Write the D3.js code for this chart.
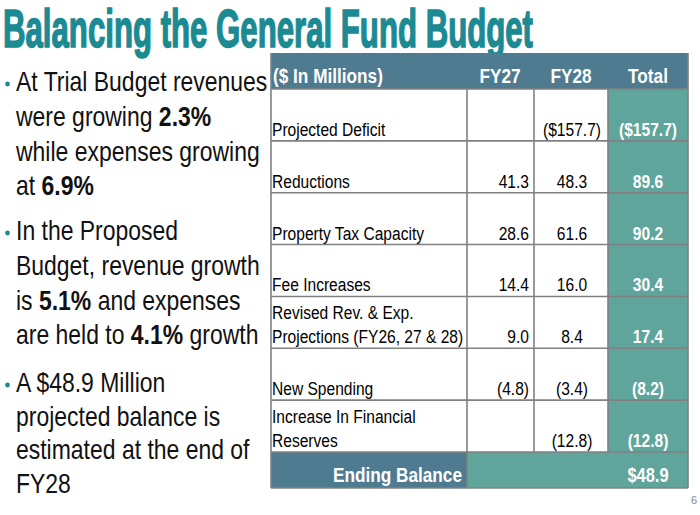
<!DOCTYPE html>
<html>
<head>
<meta charset="utf-8">
<script src="https://cdn.jsdelivr.net/npm/d3@7"></script>
<style>
  body { margin: 0; background: #fff; }
  svg { display: block; }
</style>
</head>
<body>
<svg id="slide" width="700" height="515"></svg>
<script>
// table data
const headers = ["($ In Millions)", "FY27", "FY28", "Total"];
const rowLabels = [
    ["Projected Deficit"],
    ["Reductions"],
    ["Property Tax Capacity"],
    ["Fee Increases"],
    ["Revised Rev. & Exp.", "Projections (FY26, 27 & 28)"],
    ["New Spending"],
    ["Increase In Financial", "Reserves"]
];
const fy27 = [null, 41.3, 28.6, 14.4, 9.0, -4.8, null];
const fy28 = [-157.7, 48.3, 61.6, 16.0, 8.4, -3.4, -12.8];
const totals = [-157.7, 89.6, 90.2, 30.4, 17.4, -8.2, -12.8];
const endingLabel = "Ending Balance";
const endingBalance = 48.9;

// bullet text, each line is a list of [text, bold]
const bullets = [
    [
        [["At Trial Budget revenues", false]],
        [["were growing ", false], ["2.3%", true]],
        [["while expenses growing", false]],
        [["at ", false], ["6.9%", true]]
    ],
    [
        [["In the Proposed", false]],
        [["Budget, revenue growth", false]],
        [["is ", false], ["5.1%", true], [" and expenses", false]],
        [["are held to ", false], ["4.1%", true], [" growth", false]]
    ],
    [
        [["A $48.9 Million", false]],
        [["projected balance is", false]],
        [["estimated at the end of", false]],
        [["FY28", false]]
    ]
];

// no Arial Narrow here: squeeze Liberation Sans horizontally instead
const FONT = "'Liberation Sans', Arial, sans-serif";
const SQUEEZE = 0.82;
const teal = "#1b8a92";
const steel = "#4f7b91";
const green = "#5fa59c";
const grid = "#808080";

const svg = d3.select("#slide");

function ntext(parent, x, y, size, bold, fill, anchor) {
    return parent.append("text")
        .attr("transform", `translate(${x},${y}) scale(${SQUEEZE},1)`)
        .attr("text-anchor", anchor || "start")
        .attr("font-family", FONT)
        .attr("font-size", size)
        .attr("font-weight", bold ? "bold" : "normal")
        .attr("fill", fill);
}

// title
svg.append("text")
    .attr("x", 3)
    .attr("y", 47)
    .attr("font-family", FONT)
    .attr("font-weight", "bold")
    .attr("font-size", 54)
    .attr("fill", teal)
    .attr("stroke", teal)
    .attr("stroke-width", 1.6)
    .attr("textLength", 530)
    .attr("lengthAdjust", "spacingAndGlyphs")
    .text("Balancing the General Fund Budget");

// bullets
const lineH = 34.8;
const bulletStarts = [91, 240, 392];
bullets.forEach((para, pi) => {
    svg.append("circle")
        .attr("cx", 7.5)
        .attr("cy", bulletStarts[pi] - 7)
        .attr("r", 2.4)
        .attr("fill", teal);
    para.forEach((line, li) => {
        const t = ntext(svg, 16, bulletStarts[pi] + li * lineH - (pi === 2 ? li * 1.2 : 0), 28, false, "#111");
        line.forEach(([s, b]) => {
            t.append("tspan")
                .attr("font-weight", b ? "bold" : "normal")
                .text(s);
        });
    });
});

// table geometry
const cols = [271, 467, 534, 608, 688];
const headTop = 53, bodyTop = 89, bodyBottom = 452, tableBottom = 488;
const y = d3.scaleBand()
    .domain(d3.range(rowLabels.length))
    .range([bodyTop, bodyBottom]);

const num = d3.format(".1f");
function fmt(v, dollar) {
    if (v == null) return "";
    const s = (dollar ? "$" : "") + num(Math.abs(v));
    return v < 0 ? "(" + s + ")" : s;
}

const table = svg.append("g");

// backgrounds
table.append("rect")
    .attr("x", cols[0]).attr("y", headTop)
    .attr("width", cols[4] - cols[0]).attr("height", bodyTop - headTop)
    .attr("fill", steel);
table.append("rect")
    .attr("x", cols[3]).attr("y", bodyTop)
    .attr("width", cols[4] - cols[3]).attr("height", bodyBottom - bodyTop)
    .attr("fill", green);
table.append("rect")
    .attr("x", cols[0]).attr("y", bodyBottom)
    .attr("width", cols[1] - cols[0]).attr("height", tableBottom - bodyBottom)
    .attr("fill", steel);
table.append("rect")
    .attr("x", cols[1]).attr("y", bodyBottom)
    .attr("width", cols[4] - cols[1]).attr("height", tableBottom - bodyBottom)
    .attr("fill", green);

// grid lines
const hLines = d3.range(rowLabels.length).map(i => y(i)).concat([bodyBottom, tableBottom]);
table.selectAll("line.h")
    .data(hLines)
    .enter().append("line")
    .attr("x1", cols[0]).attr("x2", cols[4])
    .attr("y1", d => d).attr("y2", d => d)
    .attr("stroke", grid).attr("stroke-width", 1.6);
table.selectAll("line.v")
    .data(cols.slice(1, 4))
    .enter().append("line")
    .attr("x1", d => d).attr("x2", d => d)
    .attr("y1", bodyTop).attr("y2", bodyBottom)
    .attr("stroke", grid).attr("stroke-width", 1.6);
table.append("line")
    .attr("x1", cols[1]).attr("x2", cols[1])
    .attr("y1", bodyBottom).attr("y2", tableBottom)
    .attr("stroke", grid).attr("stroke-width", 1.6);
[cols[0], cols[4]].forEach(x => {
    table.append("line")
        .attr("x1", x).attr("x2", x)
        .attr("y1", headTop).attr("y2", tableBottom)
        .attr("stroke", grid).attr("stroke-width", 1.6);
});

// header text
const headX = [cols[0] + 2, 500, 571, 648];
headers.forEach((h, i) => {
    ntext(table, headX[i], 83, 21, true, "#fff", i === 0 ? "start" : "middle").text(h);
});

// body rows
const row = table.selectAll("g.row")
    .data(rowLabels.map((lab, i) => ({ lab, i })))
    .enter().append("g");

row.each(function(d) {
    const g = d3.select(this);
    const base = y(d.i) + y.bandwidth() - 5;
    d.lab.forEach((l, k) => {
        ntext(g, cols[0] + 1, base - (d.lab.length - 1 - k) * 24.5, 19, false, "#000").text(l);
    });
    ntext(g, cols[2] - 5, base, 19, false, "#000", "end").text(fmt(fy27[d.i], d.i === 0));
    ntext(g, 572, base, 19, false, "#000", "middle").text(fmt(fy28[d.i], d.i === 0));
    ntext(g, 648, base, 19, true, "#fff", "middle").text(fmt(totals[d.i], d.i === 0));
});

// ending balance
ntext(table, cols[1] - 5, 482, 21, true, "#fff", "end").text(endingLabel);
ntext(table, 648, 482, 20, true, "#fff", "middle").text(fmt(endingBalance, true));

// page number
svg.append("text")
    .attr("x", 697)
    .attr("y", 504)
    .attr("text-anchor", "end")
    .attr("font-family", FONT)
    .attr("font-size", 11)
    .attr("fill", "#888")
    .text("6");
</script>
</body>
</html>
